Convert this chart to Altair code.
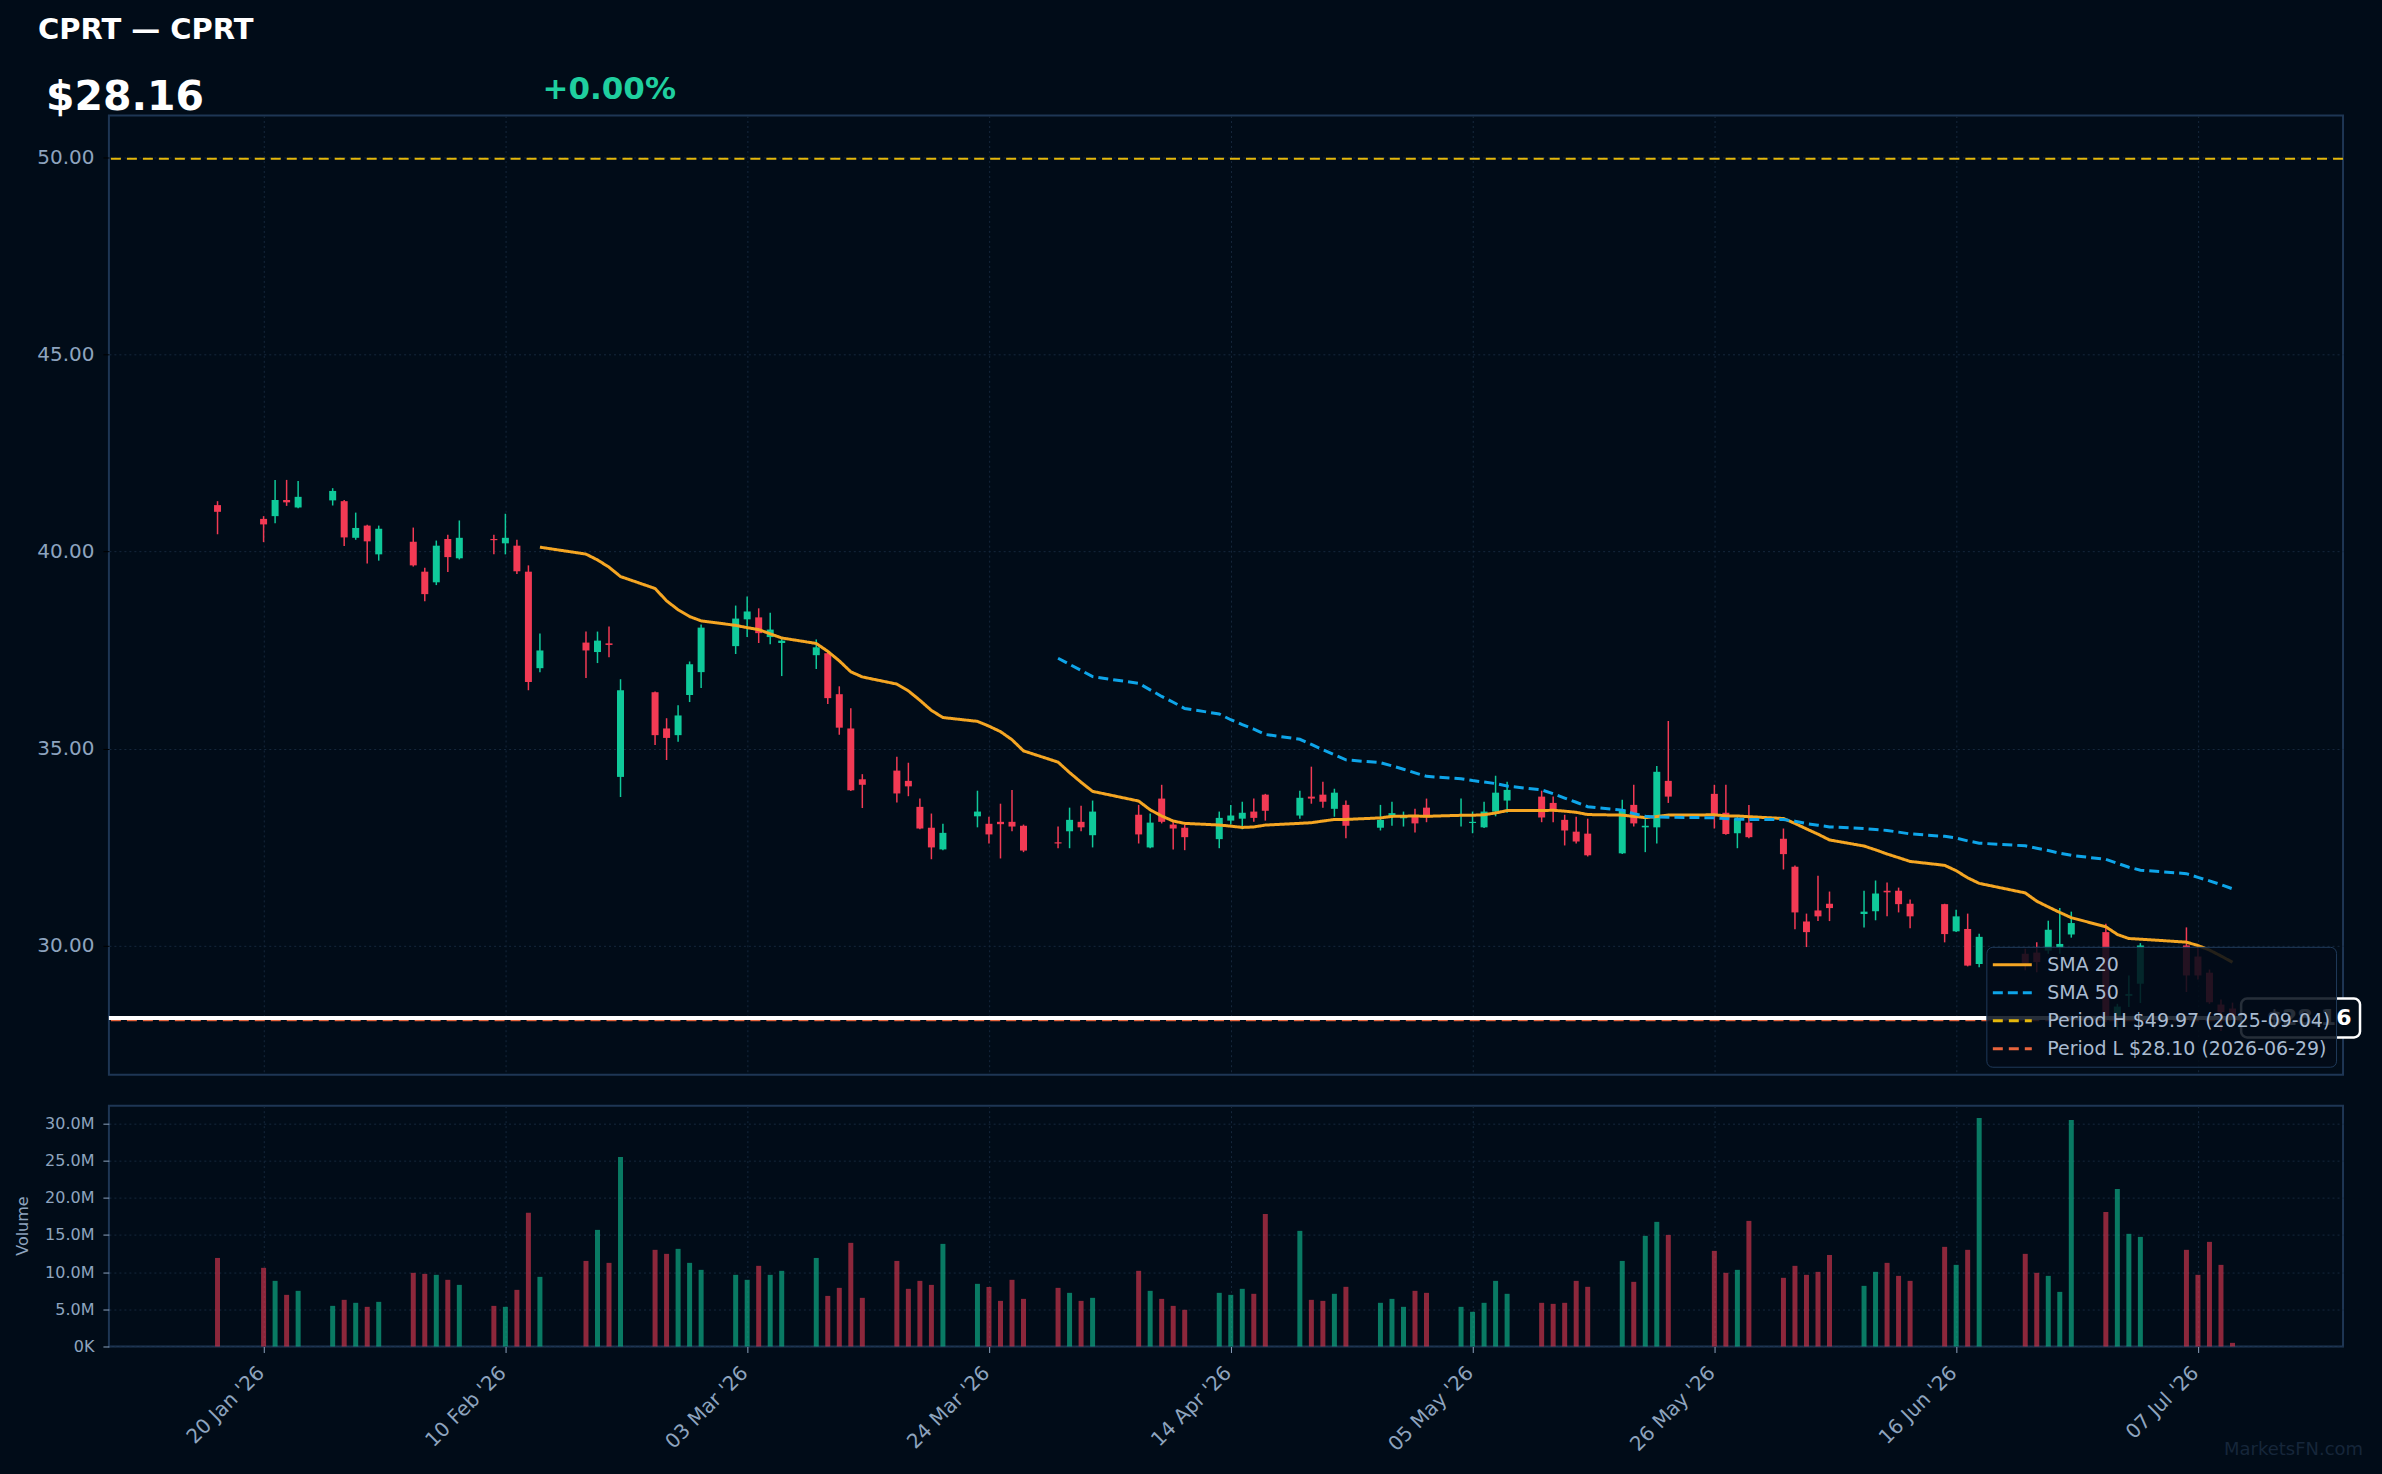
import altair as alt
import pandas as pd

# ---------------- data ----------------
dates = [
    "2026-01-16", "2026-01-20", "2026-01-21", "2026-01-22", "2026-01-23",
    "2026-01-26", "2026-01-27", "2026-01-28", "2026-01-29", "2026-01-30",
    "2026-02-02", "2026-02-03", "2026-02-04", "2026-02-05", "2026-02-06",
    "2026-02-09", "2026-02-10", "2026-02-11", "2026-02-12", "2026-02-13",
    "2026-02-17", "2026-02-18", "2026-02-19", "2026-02-20",
    "2026-02-23", "2026-02-24", "2026-02-25", "2026-02-26", "2026-02-27",
    "2026-03-02", "2026-03-03", "2026-03-04", "2026-03-05", "2026-03-06",
    "2026-03-09", "2026-03-10", "2026-03-11", "2026-03-12", "2026-03-13",
    "2026-03-16", "2026-03-17", "2026-03-18", "2026-03-19", "2026-03-20",
    "2026-03-23", "2026-03-24", "2026-03-25", "2026-03-26", "2026-03-27",
    "2026-03-30", "2026-03-31", "2026-04-01", "2026-04-02",
    "2026-04-06", "2026-04-07", "2026-04-08", "2026-04-09", "2026-04-10",
    "2026-04-13", "2026-04-14", "2026-04-15", "2026-04-16", "2026-04-17",
    "2026-04-20", "2026-04-21", "2026-04-22", "2026-04-23", "2026-04-24",
    "2026-04-27", "2026-04-28", "2026-04-29", "2026-04-30", "2026-05-01",
    "2026-05-04", "2026-05-05", "2026-05-06", "2026-05-07", "2026-05-08",
    "2026-05-11", "2026-05-12", "2026-05-13", "2026-05-14", "2026-05-15",
    "2026-05-18", "2026-05-19", "2026-05-20", "2026-05-21", "2026-05-22",
    "2026-05-26", "2026-05-27", "2026-05-28", "2026-05-29",
    "2026-06-01", "2026-06-02", "2026-06-03", "2026-06-04", "2026-06-05",
    "2026-06-08", "2026-06-09", "2026-06-10", "2026-06-11", "2026-06-12",
    "2026-06-15", "2026-06-16", "2026-06-17", "2026-06-18",
    "2026-06-22", "2026-06-23", "2026-06-24", "2026-06-25", "2026-06-26",
    "2026-06-29", "2026-06-30", "2026-07-01", "2026-07-02",
    "2026-07-06", "2026-07-07", "2026-07-08", "2026-07-09", "2026-07-10",
]

opens = [
    41.18, 40.83, 40.90, 41.31, 41.12,
    41.30, 41.28, 40.35, 40.66, 39.93,
    40.25, 39.49, 39.22, 40.32, 39.83,
    40.32, 40.21, 40.15, 39.49, 37.04,
    37.69, 37.45, 37.67, 34.28,
    36.43, 35.51, 35.34, 36.36, 36.94,
    37.60, 38.28, 38.33, 37.83, 37.68,
    37.37, 37.42, 36.38, 35.51, 34.22,
    34.44, 34.18, 33.52, 32.99, 32.44,
    33.28, 33.09, 33.14, 33.14, 33.04,
    32.62, 32.90, 33.14, 32.80,
    33.32, 32.49, 33.73, 33.07, 32.99,
    32.70, 33.17, 33.22, 33.40, 33.83,
    33.30, 33.78, 33.83, 33.47, 33.57,
    32.99, 33.28, 33.23, 33.31, 33.50,
    33.29, 33.11, 33.00, 33.40, 33.68,
    33.78, 33.62, 33.19, 32.89, 32.84,
    32.34, 33.57, 33.00, 33.00, 34.18,
    33.85, 33.37, 32.85, 33.12,
    32.71, 32.00, 30.61, 30.89, 31.06,
    30.80, 30.87, 31.39, 31.39, 31.06,
    31.05, 30.36, 30.42, 29.53,
    29.79, 29.82, 29.87, 29.94, 30.28,
    30.34, 28.20, 28.72, 29.03,
    30.00, 29.72, 29.31, 28.50, 28.40,
]

highs = [
    41.28, 40.90, 41.82, 41.82, 41.79,
    41.61, 41.31, 40.99, 40.68, 40.66,
    40.61, 39.59, 40.28, 40.43, 40.79,
    40.43, 40.96, 40.30, 39.65, 37.92,
    37.97, 37.97, 38.10, 36.76,
    36.45, 35.77, 36.10, 37.21, 38.15,
    38.63, 38.86, 38.56, 38.45, 37.78,
    37.77, 37.47, 36.58, 36.02, 34.35,
    34.79, 34.64, 33.73, 33.35, 33.09,
    33.93, 33.27, 33.60, 33.95, 33.07,
    33.02, 33.50, 33.55, 33.68,
    33.57, 33.35, 34.08, 33.17, 33.07,
    33.40, 33.57, 33.65, 33.73, 33.85,
    33.93, 34.54, 34.16, 33.98, 33.68,
    33.57, 33.65, 33.40, 33.47, 33.73,
    33.73, 33.40, 33.65, 34.31, 34.16,
    33.93, 33.78, 33.32, 33.27, 33.22,
    33.70, 34.08, 33.25, 34.56, 35.70,
    34.08, 34.08, 33.30, 33.57,
    32.97, 32.03, 30.81, 31.77, 31.37,
    31.39, 31.65, 31.60, 31.47, 31.17,
    31.06, 30.91, 30.81, 30.30,
    29.92, 30.08, 30.63, 30.95, 30.86,
    30.55, 28.52, 29.24, 30.06,
    30.46, 29.96, 29.39, 28.63, 28.55,
]

lows = [
    40.44, 40.24, 40.72, 41.16, 41.10,
    41.17, 40.14, 40.30, 39.70, 39.77,
    39.62, 38.74, 39.15, 39.48, 39.80,
    39.93, 39.93, 39.43, 36.48, 36.94,
    36.79, 37.17, 37.32, 33.77,
    35.09, 34.71, 35.17, 36.18, 36.54,
    37.40, 37.83, 37.68, 37.65, 36.84,
    37.02, 36.13, 35.35, 33.92, 33.49,
    33.63, 33.79, 32.95, 32.19, 32.42,
    33.00, 32.59, 32.21, 32.90, 32.37,
    32.47, 32.47, 32.90, 32.49,
    32.59, 32.47, 33.10, 32.44, 32.42,
    32.47, 33.07, 32.95, 33.14, 33.17,
    33.22, 33.60, 33.50, 33.27, 32.72,
    32.92, 33.04, 33.02, 32.87, 33.13,
    33.02, 32.85, 32.98, 33.28, 33.37,
    33.13, 33.13, 32.54, 32.59, 32.26,
    32.32, 33.02, 32.37, 32.59, 33.62,
    32.97, 32.81, 32.47, 32.72,
    31.93, 30.41, 29.96, 30.62, 30.62,
    30.46, 30.64, 30.74, 30.84, 30.44,
    30.08, 30.34, 29.47, 29.45,
    29.37, 29.32, 29.79, 29.79, 30.20,
    28.05, 27.86, 28.44, 28.54,
    28.82, 29.14, 28.52, 27.83, 28.10,
]

closes = [
    41.01, 40.69, 41.31, 41.25, 41.39,
    41.54, 40.36, 40.60, 40.26, 40.58,
    39.65, 38.92, 40.15, 39.86, 40.35,
    40.29, 40.35, 39.50, 36.69, 37.49,
    37.49, 37.74, 37.63, 36.48,
    35.34, 35.27, 35.84, 37.14, 38.07,
    38.30, 38.48, 37.93, 38.02, 37.74,
    37.57, 36.28, 35.53, 33.94, 34.08,
    33.86, 34.04, 32.97, 32.49, 32.86,
    33.40, 32.82, 33.08, 33.02, 32.41,
    32.59, 33.19, 33.00, 33.40,
    32.82, 33.12, 33.14, 32.97, 32.75,
    33.24, 33.30, 33.37, 33.24, 33.42,
    33.75, 33.73, 33.65, 33.88, 33.04,
    33.19, 33.36, 33.28, 33.10, 33.25,
    33.33, 33.14, 33.40, 33.88, 33.95,
    33.25, 33.46, 32.92, 32.64, 32.29,
    33.45, 33.10, 33.04, 34.41, 33.78,
    33.32, 32.83, 33.22, 32.75,
    32.32, 30.84, 30.34, 30.74, 30.95,
    30.86, 31.32, 31.35, 31.05, 30.74,
    30.29, 30.74, 29.49, 30.22,
    29.55, 29.58, 30.40, 30.04, 30.57,
    28.10, 28.45, 28.77, 30.00,
    29.24, 29.24, 28.56, 28.31, 28.16,
]

volumes_m = [
    11.90, 10.57, 8.82, 6.94, 7.48,
    5.46, 6.27, 5.87, 5.33, 6.00,
    9.90, 9.76, 9.63, 8.96, 8.28,
    5.46, 5.33, 7.61, 17.96, 9.36,
    11.50, 15.67, 11.24, 25.48,
    12.99, 12.45, 13.12, 11.24, 10.30,
    9.63, 8.96, 10.84, 9.63, 10.17,
    11.90, 6.80, 7.88, 13.93, 6.54,
    11.50, 7.75, 8.82, 8.28, 13.79,
    8.42, 8.00, 6.13, 8.96, 6.40,
    7.88, 7.21, 6.13, 6.54,
    10.17, 7.48, 6.40, 5.46, 4.93,
    7.21, 6.94, 7.75, 7.08, 17.82,
    15.54, 6.27, 6.13, 7.08, 8.02,
    5.87, 6.40, 5.33, 7.48, 7.21,
    5.33, 4.66, 5.87, 8.82, 7.08,
    5.87, 5.73, 5.87, 8.82, 8.02,
    11.50, 8.69, 14.87, 16.75, 15.00,
    12.85, 9.90, 10.30, 16.88,
    9.23, 10.84, 9.63, 10.03, 12.30,
    8.15, 10.03, 11.24, 9.49, 8.82,
    13.39, 10.97, 12.99, 30.72,
    12.45, 9.90, 9.49, 7.34, 30.45,
    18.09, 21.18, 15.14, 14.73,
    12.99, 9.63, 14.06, 10.97, 0.49,
]

tick_dates = [(2026, 1, 20), (2026, 2, 10), (2026, 3, 3), (2026, 3, 24), (2026, 4, 14),
              (2026, 5, 5), (2026, 5, 26), (2026, 6, 16), (2026, 7, 7)]
price_ticks = [30, 35, 40, 45, 50]
volume_ticks = [0, 5e6, 10e6, 15e6, 20e6, 25e6, 30e6]

title_text = ["CPRT \u2014 CPRT"]
price_text = ["$28.16"]
change_text = ["+0.00%"]
watermark_text = ["MarketsFN.com"]
last_close = [28.16]
period_high = 49.97
period_high_date = "2025-09-04"
period_low = 28.10
period_low_date = "2026-06-29"

# ---------------- styling ----------------
BG = "#010c18"
UP = "#0fc99a"
DOWN = "#f23a54"
SMA20_C = "#f5a623"
SMA50_C = "#0ea5e9"
PH_C = "#e5b80b"
PL_C = "#e8643c"
AXIS_TXT = "#8ea4bf"
BORDER = "#1e3654"
GRID = "#16283d"
FONT = "DejaVu Sans"

W = 2236
H_PRICE = 960
H_VOL = 241

# ---------------- tables ----------------
df = pd.DataFrame({
    "date": dates, "open": opens, "high": highs, "low": lows, "close": closes,
    "volume": [v * 1e6 for v in volumes_m],
})
df["sma20"] = df["close"].rolling(20).mean()
df["sma50"] = df["close"].rolling(50).mean()

L20 = "SMA 20"
L50 = "SMA 50"
LH = f"Period H ${period_high:.2f} ({period_high_date})"
LL = f"Period L ${period_low:.2f} ({period_low_date})"
series_order = [L20, L50, LH, LL]

sma_long = pd.concat([
    pd.DataFrame({"date": df["date"], "value": df["sma20"], "series": L20}),
    pd.DataFrame({"date": df["date"], "value": df["sma50"], "series": L50}),
]).dropna()
period_df = pd.DataFrame({"series": [LH, LL], "value": [period_high, period_low]})
last_df = pd.DataFrame({"price": last_close, "label": price_text})
one = pd.DataFrame({"k": [0]})

x_dom = [alt.DateTime(year=2026, month=1, date=7, utc=True),
         alt.DateTime(year=2026, month=7, date=19, hours=4, utc=True)]
tick_vals = [alt.DateTime(year=y, month=m, date=d, utc=True) for (y, m, d) in tick_dates]

color_scale = alt.Scale(domain=series_order, range=[SMA20_C, SMA50_C, PH_C, PL_C])
dash_scale = alt.Scale(domain=series_order, range=[[1, 0], [10, 5], [10, 6], [10, 6]])
legend = alt.Legend(
    title=None, orient="none", legendX=1879, legendY=832, symbolType="stroke", symbolSize=1521,
    symbolStrokeWidth=3, labelFontSize=19, labelColor="#a9bbd1", labelFont=FONT,
    fillColor="rgba(2,12,24,0.86)", strokeColor="#1f3a5a", padding=5, cornerRadius=6,
    labelOffset=14, labelLimit=0, clipHeight=26, rowPadding=2,
)

price_y = alt.Scale(domain=[26.72, 51.07], nice=False, zero=False)
x_price = alt.X("date:T", scale=alt.Scale(type="utc", domain=x_dom),
                axis=alt.Axis(values=tick_vals, labels=False, ticks=False, domain=False,
                              grid=True, gridColor=GRID, gridDash=[2, 3], title=None))
y_price_axis = alt.Axis(values=price_ticks, format=".2f", labelFontSize=20, labelColor=AXIS_TXT,
                        labelFont=FONT, tickColor="#000000", tickSize=6, labelPadding=9,
                        grid=True, gridColor=GRID, gridDash=[2, 3], domain=False, title=None)

candle_color = alt.condition("datum.close >= datum.open", alt.value(UP), alt.value(DOWN))
base = alt.Chart(df)

wicks = base.mark_rule(strokeWidth=1.5).encode(
    x=x_price,
    y=alt.Y("low:Q", scale=price_y, axis=y_price_axis),
    y2="high:Q",
    color=candle_color,
)
bodies = base.mark_bar(size=7).encode(
    x="date:T", y="open:Q", y2="close:Q", color=candle_color,
)
sma_lines = alt.Chart(sma_long).mark_line(strokeWidth=3).encode(
    x="date:T", y="value:Q",
    color=alt.Color("series:N", scale=color_scale, legend=legend),
    strokeDash=alt.StrokeDash("series:N", scale=dash_scale, legend=legend),
    detail="series:N",
)
period_rules = alt.Chart(period_df).mark_rule(strokeWidth=2).encode(
    y="value:Q",
    color=alt.Color("series:N", scale=color_scale, legend=legend),
    strokeDash=alt.StrokeDash("series:N", scale=dash_scale, legend=legend),
)
last_rule = alt.Chart(last_df).mark_rule(color="white", strokeWidth=4).encode(y="price:Q")
label_box = alt.Chart(last_df).mark_rect(
    yOffset=-19.5, y2Offset=19.5, cornerRadius=6, fill=BG, stroke="white", strokeWidth=2.5
).encode(y="price:Q", y2="price:Q", x=alt.value(2134), x2=alt.value(2253))
label_txt = alt.Chart(last_df).mark_text(
    fontSize=22, fontWeight="bold", color="white", align="center", baseline="middle", font=FONT
).encode(y="price:Q", x=alt.value(2202), text="label:N")

hdr_title = alt.Chart(pd.DataFrame({"t": title_text})).mark_text(
    align="left", baseline="alphabetic", fontSize=29, fontWeight="bold", color="white", font=FONT
).encode(x=alt.value(-71), y=alt.value(-77), text="t:N")
hdr_price = alt.Chart(pd.DataFrame({"t": price_text})).mark_text(
    align="left", baseline="alphabetic", fontSize=41, fontWeight="bold", color="white", font=FONT
).encode(x=alt.value(-63), y=alt.value(-6), text="t:N")
hdr_change = alt.Chart(pd.DataFrame({"t": change_text})).mark_text(
    align="left", baseline="alphabetic", fontSize=31, fontWeight="bold", color="#1fcf9f", font=FONT
).encode(x=alt.value(434), y=alt.value(-17), text="t:N")
anchor_tl = alt.Chart(one).mark_rect(fill=BG).encode(
    x=alt.value(-108), x2=alt.value(-107), y=alt.value(-114), y2=alt.value(-113))

price_chart = alt.layer(
    wicks, bodies, period_rules, sma_lines, last_rule, label_box, label_txt,
    hdr_title, hdr_price, hdr_change, anchor_tl,
).properties(width=W, height=H_PRICE)

# ---------------- volume panel ----------------
vol_color = alt.condition("datum.close >= datum.open", alt.value(UP), alt.value(DOWN))
vol_bars = alt.Chart(df).mark_bar(size=5, opacity=0.58).encode(
    x=alt.X("date:T", scale=alt.Scale(type="utc", domain=x_dom),
            axis=alt.Axis(values=tick_vals, format="%d %b '%y", labelAngle=315, labelAlign="right",
                          labelBaseline="top", labelFontSize=20, labelColor=AXIS_TXT, labelFont=FONT,
                          tickColor=AXIS_TXT, tickSize=6, labelPadding=10, labelOffset=-10,
                          domain=False, grid=True, gridColor=GRID, gridDash=[2, 3], title=None)),
    y=alt.Y("volume:Q", scale=alt.Scale(domain=[0, 32.36e6], nice=False),
            axis=alt.Axis(values=volume_ticks,
                          labelExpr="datum.value == 0 ? '0K' : format(datum.value / 1e6, '.1f') + 'M'",
                          labelFontSize=16, labelColor=AXIS_TXT, labelFont=FONT, tickColor=AXIS_TXT,
                          tickSize=6, labelPadding=9, grid=True, gridColor=GRID, gridDash=[2, 3],
                          domain=False, title="Volume", titleX=-78, titleY=120, titleAngle=270,
                          titleBaseline="bottom", titleAlign="center", titleFontSize=16,
                          titleFontWeight="normal", titleColor=AXIS_TXT, titleFont=FONT)),
    color=vol_color,
)
watermark = alt.Chart(pd.DataFrame({"t": watermark_text})).mark_text(
    align="right", baseline="alphabetic", fontSize=18, color="#16263a", font=FONT
).encode(x=alt.value(2256), y=alt.value(350), text="t:N")
anchor_br = alt.Chart(one).mark_rect(fill=BG).encode(
    x=alt.value(2273), x2=alt.value(2274), y=alt.value(368), y2=alt.value(369))

vol_chart = alt.layer(vol_bars, watermark, anchor_br).properties(width=W, height=H_VOL)

chart = alt.vconcat(price_chart, vol_chart, spacing=29).properties(
    padding=0, background=BG
).configure(font=FONT).configure_view(stroke=BORDER, strokeWidth=2, fill=BG)

chart.save("out.html", embed_options={"renderer": "svg", "actions": False})
